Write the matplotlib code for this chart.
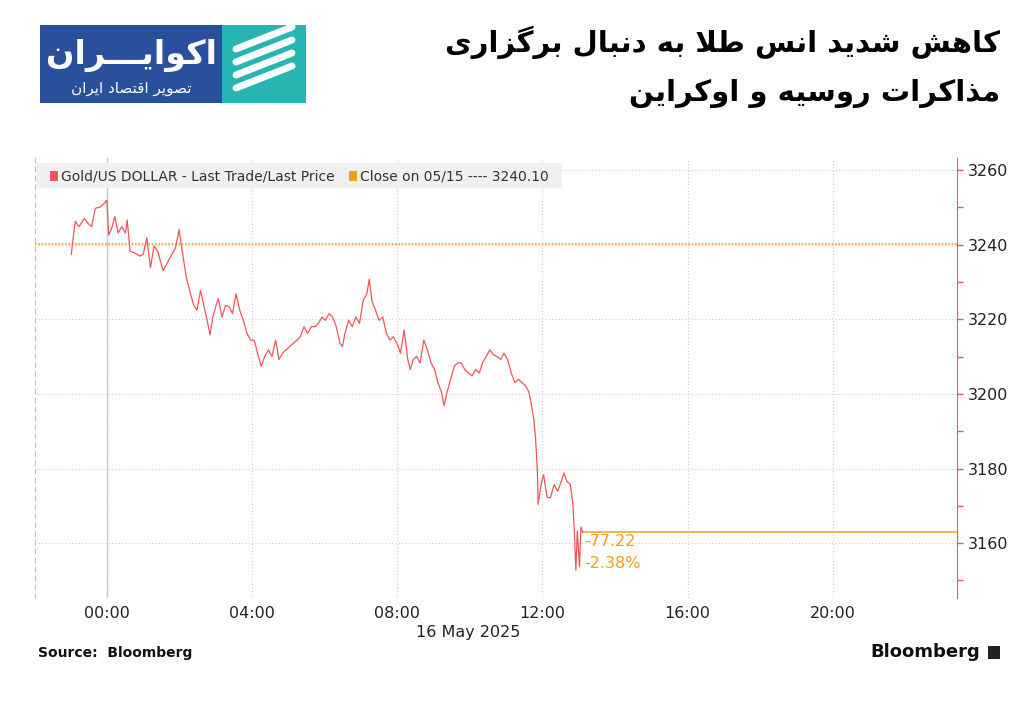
import matplotlib
matplotlib.use("Agg")
import matplotlib.pyplot as plt
from matplotlib.patches import Rectangle
from matplotlib.lines import Line2D
from matplotlib.ticker import MultipleLocator

hours = [-0.98,-0.94,-0.87,-0.77,-0.62,-0.52,-0.42,-0.32,-0.18,-0.08,0.0,0.05,0.12,0.22,0.31,0.41,0.51,0.56,0.64,0.76,0.91,1.00,1.10,1.20,1.30,1.40,1.55,1.69,1.79,1.89,1.99,2.09,2.19,2.28,2.38,2.48,2.58,2.68,2.78,2.84,2.92,3.02,3.07,3.17,3.27,3.37,3.46,3.56,3.66,3.76,3.86,3.96,4.06,4.15,4.25,4.35,4.45,4.55,4.65,4.74,4.84,4.94,5.04,5.14,5.24,5.33,5.43,5.53,5.63,5.73,5.83,5.93,6.02,6.12,6.22,6.32,6.42,6.49,6.56,6.66,6.76,6.86,6.96,7.06,7.16,7.23,7.30,7.40,7.50,7.60,7.70,7.80,7.89,7.99,8.09,8.19,8.29,8.36,8.44,8.53,8.63,8.73,8.83,8.93,9.03,9.12,9.22,9.29,9.37,9.47,9.57,9.67,9.76,9.86,9.96,10.06,10.16,10.26,10.35,10.45,10.55,10.65,10.75,10.85,10.94,11.04,11.14,11.24,11.34,11.44,11.54,11.63,11.70,11.76,11.81,11.86,11.88,11.96,12.03,12.13,12.22,12.32,12.42,12.52,12.59,12.67,12.77,12.84,12.88,12.92,12.96,13.02,13.06,13.11]
prices = [3237.4,3240.9,3246.2,3244.8,3247.0,3245.7,3244.8,3249.7,3250.1,3251.0,3251.9,3242.6,3244.0,3247.5,3243.1,3244.8,3243.1,3246.6,3238.2,3237.8,3236.9,3237.4,3241.8,3233.8,3239.6,3238.2,3233.0,3235.6,3237.4,3239.1,3244.0,3237.4,3231.2,3227.7,3224.1,3222.4,3227.7,3223.3,3218.9,3215.8,3220.6,3224.1,3225.5,3220.6,3223.7,3223.3,3221.5,3226.8,3222.4,3219.7,3216.2,3214.4,3214.4,3210.9,3207.4,3210.0,3211.8,3210.0,3214.4,3209.2,3210.9,3211.8,3212.7,3213.6,3214.4,3215.3,3218.0,3216.2,3218.0,3218.0,3218.9,3220.6,3219.7,3221.5,3220.6,3218.0,3213.6,3212.7,3216.2,3219.7,3218.0,3220.6,3218.9,3225.0,3226.8,3230.7,3225.0,3222.4,3219.7,3220.6,3216.2,3214.4,3215.3,3213.6,3210.9,3217.1,3209.2,3206.5,3209.2,3210.0,3208.3,3214.4,3211.8,3208.3,3206.5,3203.0,3200.4,3196.8,3200.4,3203.9,3207.4,3208.3,3208.3,3206.5,3205.6,3204.8,3206.5,3205.6,3208.3,3210.0,3211.8,3210.5,3210.0,3209.2,3210.9,3209.2,3205.6,3203.0,3203.9,3203.0,3202.1,3200.4,3196.8,3193.3,3188.0,3179.2,3170.4,3175.7,3178.3,3172.2,3172.2,3175.7,3173.9,3176.6,3178.8,3176.6,3175.7,3170.4,3162.5,3152.8,3163.3,3153.7,3164.3,3162.9]
prev_close = 3240.10
change = -77.22
change_pct = -2.38
x_ticks = [0, 4, 8, 12, 16, 20]
x_labels = ["00:00", "04:00", "08:00", "12:00", "16:00", "20:00"]
y_ticks = [3160, 3180, 3200, 3220, 3240, 3260]

# --- minimal Persian shaping ---
FORMS = {
 'ا':('\uFE8D','\uFE8E',None,None),'ب':('\uFE8F','\uFE90','\uFE91','\uFE92'),
 'ت':('\uFE95','\uFE96','\uFE97','\uFE98'),'د':('\uFEA9','\uFEAA',None,None),
 'ذ':('\uFEAB','\uFEAC',None,None),'ر':('\uFEAD','\uFEAE',None,None),
 'ز':('\uFEAF','\uFEB0',None,None),'س':('\uFEB1','\uFEB2','\uFEB3','\uFEB4'),
 'ش':('\uFEB5','\uFEB6','\uFEB7','\uFEB8'),'ص':('\uFEB9','\uFEBA','\uFEBB','\uFEBC'),
 'ط':('\uFEC1','\uFEC2','\uFEC3','\uFEC4'),'ق':('\uFED5','\uFED6','\uFED7','\uFED8'),
 'ل':('\uFEDD','\uFEDE','\uFEDF','\uFEE0'),'م':('\uFEE1','\uFEE2','\uFEE3','\uFEE4'),
 'ن':('\uFEE5','\uFEE6','\uFEE7','\uFEE8'),'ه':('\uFEE9','\uFEEA','\uFEEB','\uFEEC'),
 'و':('\uFEED','\uFEEE',None,None),'ک':('\uFB8E','\uFB8F','\uFB90','\uFB91'),
 'گ':('\uFB92','\uFB93','\uFB94','\uFB95'),'ی':('\uFBFC','\uFBFD','\uFBFE','\uFBFF'),
 'ـ':('ـ','ـ','ـ','ـ'),
}
def dual(c):
    return c in FORMS and FORMS[c][2] is not None
def shape(s):
    out = []
    i = 0
    n = len(s)
    while i < n:
        c = s[i]
        if c not in FORMS:
            out.append(c); i += 1; continue
        pj = i > 0 and dual(s[i-1])
        if c == 'ل' and i+1 < n and s[i+1] == 'ا':
            out.append('\uFEFC' if pj else '\uFEFB'); i += 2; continue
        nj = dual(c) and i+1 < n and s[i+1] in FORMS
        iso, fin, ini, med = FORMS[c]
        if pj and nj: out.append(med)
        elif pj: out.append(fin)
        elif nj: out.append(ini)
        else: out.append(iso)
        i += 1
    return ''.join(out[::-1])

fig = plt.figure(figsize=(10.24, 7.2), dpi=100)
fig.patch.set_facecolor('white')
ax = fig.add_axes([35/1024, 1-598/720, 922/1024, 440/720])
ax.set_xlim(-1.98, 23.42)
ax.set_ylim(3145.3, 3263.2)

ax.plot(hours, prices, color='#f0555b', lw=0.9, zorder=3)
ax.axhline(prev_close, color='#f0a020', lw=1.2, ls=(0, (1, 1)), zorder=2)
ax.plot([hours[-1], 23.42], [prices[-1], prices[-1]], color='#f0a838', lw=1.2, zorder=2)
ax.axvline(0, color='#c8c8c8', lw=1.0, zorder=1)

ax.set_xticks(x_ticks)
ax.set_xticklabels(x_labels)
ax.set_yticks(y_ticks)
ax.yaxis.set_minor_locator(MultipleLocator(10))
ax.grid(True, which='major', color='#cccccc', ls=(0, (1, 2)), lw=0.8)
ax.yaxis.tick_right()
ax.tick_params(axis='y', which='both', colors='#f0555b', labelcolor='#222222',
               labelsize=11.5, direction='out', length=4, width=1)
ax.tick_params(axis='x', length=0, labelsize=11.5, labelcolor='#222222', pad=6)
for sp in ['top', 'bottom']:
    ax.spines[sp].set_visible(False)
ax.spines['right'].set_color('#f0555b')
ax.spines['left'].set_color('#c0c0c0')
ax.spines['left'].set_linestyle((0, (4, 4)))

ax.text(hours[-1] + 0.05, prices[-1] - 2.4, f"{change:.2f}", color='#f0a020', fontsize=11.5, va='center')
ax.text(hours[-1] + 0.05, prices[-1] - 8.3, f"{change_pct:.2f}%", color='#f0a020', fontsize=11.5, va='center')

# legend
fig.patches.append(Rectangle((36/1024, 1-188/720), 526/1024, 25/720, transform=fig.transFigure,
                             facecolor='#f0f0f0', edgecolor='none', zorder=5))
fig.patches.append(Rectangle((50/1024, 1-181/720), 8/1024, 10/720, transform=fig.transFigure,
                             facecolor='#f0555b', zorder=6))
fig.text(61/1024, 1-176/720, "Gold/US DOLLAR - Last Trade/Last Price", fontsize=10, va='center', color='#333333', zorder=7)
fig.patches.append(Rectangle((349/1024, 1-181/720), 8/1024, 10/720, transform=fig.transFigure,
                             facecolor='#f0a020', zorder=6))
fig.text(360/1024, 1-176/720, f"Close on 05/15 ---- {prev_close:.2f}", fontsize=10, va='center', color='#333333', zorder=7)

fig.text(468/1024, 1-632/720, "16 May 2025", fontsize=11.5, ha='center', va='center', color='#222222')
fig.text(38/1024, 1-653/720, "Source:  Bloomberg", fontsize=10, fontweight='bold', va='center', color='#111111')
fig.text(980/1024, 1-652/720, "Bloomberg", fontsize=13, fontweight='bold', ha='right', va='center', color='#111111')
fig.patches.append(Rectangle((988/1024, 1-659/720), 12/1024, 13/720, transform=fig.transFigure,
                             facecolor='#222222', zorder=6))

# title
fig.text(1000/1024, 1-42/720, shape("کاهش شدید انس طلا به دنبال برگزاری"), fontsize=21,
         fontweight='bold', ha='right', va='center', family=['DejaVu Sans'])
fig.text(1000/1024, 1-93/720, shape("مذاکرات روسیه و اوکراین"), fontsize=21,
         fontweight='bold', ha='right', va='center', family=['DejaVu Sans'])

# logo
fig.patches.append(Rectangle((40/1024, 1-103/720), 182/1024, 78/720, transform=fig.transFigure,
                             facecolor='#2a4f9c', edgecolor='none'))
fig.patches.append(Rectangle((222/1024, 1-103/720), 84/1024, 78/720, transform=fig.transFigure,
                             facecolor='#26b5b0', edgecolor='none'))
for k in range(4):
    y0 = 1 - (88 - k*13)/720
    fig.add_artist(Line2D([236/1024, 292/1024], [y0, y0 + 22/720], transform=fig.transFigure,
                          color='white', lw=5, solid_capstyle='round'))
fig.text(131/1024, 1-55/720, shape("اکوایـــران"), fontsize=24, fontweight='bold', color='white',
         ha='center', va='center')
fig.text(131/1024, 1-89/720, shape("تصویر اقتصاد ایران"), fontsize=11, color='white',
         ha='center', va='center')

fig.savefig("out.png", dpi=100)
